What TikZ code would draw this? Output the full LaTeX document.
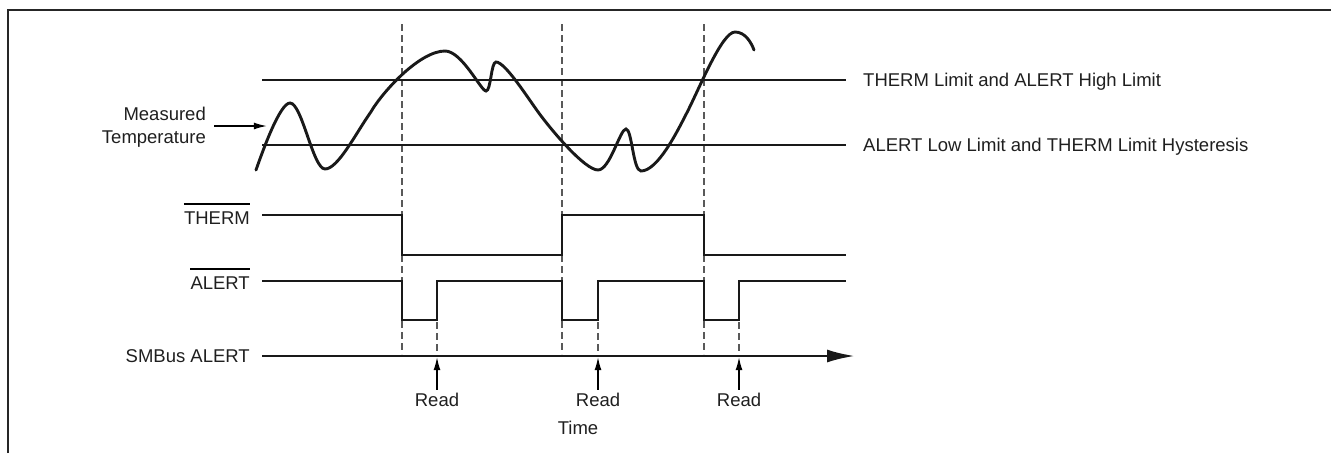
\documentclass[tikz,border=0pt]{standalone}
\usepackage{fontspec}
\setmainfont{Liberation Sans}
\usetikzlibrary{arrows.meta}

\newcommand{\overbar}[1]{\draw[line width=1.3pt] ([yshift=7.5pt]#1.north west) -- ([yshift=7.5pt]#1.north east);}

\begin{document}
\begin{tikzpicture}[x=1pt,y=-1pt,>=latex,
		font=\fontsize{18.5}{23.3}\selectfont,
		wave/.style={line width=2.7pt,line join=miter,black!90},
		guide/.style={draw=black!65,line width=1.3pt,dash pattern=on 7pt off 4pt},
		siglabel/.style={anchor=east,inner sep=0pt,text=black!88},
		readarrow/.style={-{Latex[length=13pt,width=7pt]},line width=1.3pt,shorten >=1.2pt}
	]
	\useasboundingbox (0,0) rectangle (1331,453);

	% frame
	\draw[line width=2.8pt,black!85] (8,453) -- (8,10) -- (1331,10);

	% edges
	\draw[guide] (402,24) -- (402,354);
	\draw[guide] (562,24) -- (562,354);
	\draw[guide] (704,24) -- (704,354);
	\draw[guide] (437,322) -- (437,354);
	\draw[guide] (598,322) -- (598,354);
	\draw[guide] (739,322) -- (739,354);

	% limits
	\draw[wave] (262,80) -- (846,80);
	\draw[wave] (262,145) -- (846,145);
	\node[anchor=west,inner sep=0pt,text=black!88] (lblhigh) at (863,82) {THERM Limit and ALERT High Limit};
	\node[anchor=west,inner sep=0pt,text=black!88] (lbllow) at (863,147) {ALERT Low Limit and THERM Limit Hysteresis};

	% measured temperature
	\draw[line width=2.9pt,line cap=round,black!90]
	(256,170) .. controls (263,150) and (280,103) .. (290,103)
	.. controls (302,103) and (313,169) .. (325,169)
	.. controls (338,169) and (356,133) .. (370.5,112.5)
	.. controls (383,91) and (420,51) .. (445,51)
	.. controls (462,51) and (481,91) .. (486,91)
	.. controls (491,91) and (491,62) .. (496,62)
	.. controls (505,62) and (526.7,96.3) .. (538.5,112.5)
	.. controls (552,131) and (585,170) .. (598,170)
	.. controls (610,170) and (620,129) .. (626,129)
	.. controls (632,129) and (633,171) .. (641,171)
	.. controls (658,171) and (678,130) .. (687,112.5)
	.. controls (700,87) and (722,32) .. (735,32)
	.. controls (745,32) and (751,42) .. (754,50);
	\node[siglabel,align=right] (meas) at (206,127.5) {Measured\\Temperature};
	\coordinate (mt) at (268,126);
	\draw[readarrow] (meas.east |- mt) ++(8,0) -- (mt);

	% signals
	\node[siglabel] (therm) at (250,218) {THERM};
	\overbar{therm}
	\draw[wave] (262,215) -- (402,215) -- (402,255) -- (562,255) -- (562,215)
	-- (704,215) -- (704,255) -- (846,255);

	\node[siglabel] (alert) at (250,283) {ALERT};
	\overbar{alert}
	\draw[wave] (262,281) -- (402,281) -- (402,320) -- (437,320) -- (437,281)
	-- (562,281) -- (562,320) -- (598,320) -- (598,281)
	-- (704,281) -- (704,320) -- (739,320) -- (739,281) -- (846,281);

	\node[siglabel] (smbus) at (250,356) {SMBus ALERT};
	\draw[wave,-{Latex[length=28pt,width=13pt]}] (262,356) -- (855,356);

	% reads
	\coordinate (r1) at (437,356);
	\coordinate (r2) at (598,356);
	\coordinate (r3) at (739,356);
	\node[text=black!88] (read1) at (437,400) {Read};
	\node[text=black!88] (read2) at (598,400) {Read};
	\node[text=black!88] (read3) at (739,400) {Read};
	\draw[readarrow] (read1.north) -- (r1);
	\draw[readarrow] (read2.north) -- (r2);
	\draw[readarrow] (read3.north) -- (r3);

	\node[text=black!88] (time) at (578,428) {Time};
\end{tikzpicture}
\end{document}
